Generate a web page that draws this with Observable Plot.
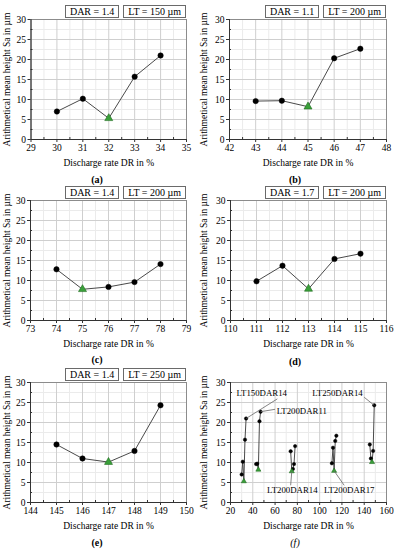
<!DOCTYPE html>
<html>
<head>
<meta charset="utf-8">
<script src="https://cdn.jsdelivr.net/npm/d3@7"></script>
<script src="https://cdn.jsdelivr.net/npm/@observablehq/plot@0.6"></script>
<style>
  html, body { margin: 0; padding: 0; background: #fff; }
  #fig { position: relative; width: 394px; height: 550px; overflow: hidden;
         font-family: "Liberation Serif", "DejaVu Serif", serif; color: #000; }
  #fig svg { position: absolute; }
  .tags { position: absolute; display: flex; gap: 4px; }
  .tag { border: 1px solid #6a6a6a; height: 11px; line-height: 11px; font-size: 10px;
         padding: 0 4px; background: #fff; white-space: nowrap; }
  .cap { position: absolute; font-size: 10px; line-height: 10px; font-weight: bold; transform: translateX(-50%); }
</style>
</head>
<body>
<div id="fig"></div>
<script>
// ---------- data ----------
const drA = [30, 31, 32, 33, 34];
const saA = [7.0, 10.2, 5.3, 15.7, 21.0];
const drB = [43, 44, 45, 46, 47];
const saB = [9.6, 9.7, 8.2, 20.3, 22.7];
const drC = [74, 75, 76, 77, 78];
const saC = [12.8, 7.8, 8.4, 9.6, 14.1];
const drD = [111, 112, 113, 114, 115];
const saD = [9.8, 13.7, 7.9, 15.4, 16.7];
const drE = [145, 146, 147, 148, 149];
const saE = [14.5, 11.0, 10.1, 12.9, 24.3];
const bestDR = [32, 45, 75, 113, 147];           // green triangle (minimum) per series
const seriesNames = ["LT150DAR14", "LT200DAR11", "LT200DAR14", "LT200DAR17", "LT250DAR14"];
const darLabels = ["1.4", "1.1", "1.4", "1.7", "1.4"];
const ltLabels = ["150", "200", "200", "200", "250"];
const captions = ["(a)", "(b)", "(c)", "(d)", "(e)", "(f)"];
const xDomains = [[29, 35], [42, 48], [73, 79], [110, 116], [144, 150], [20, 160]];
const yTicks = [0, 5, 10, 15, 20, 25, 30];
// annotation labels in panel (f): label position and leader-line end (data units)
const annText = ["LT150DAR14", "LT200DAR11", "LT250DAR14", "LT200DAR14", "LT200DAR17"];
const annX = [48, 84, 116, 75.5, 126.5];
const annY = [27.4, 22.9, 27.4, 3.0, 3.0];
const leadX1 = [34, 47, 149, 75, 113];
const leadY1 = [21.0, 22.7, 24.3, 7.8, 7.9];
const leadX2 = [62, 60, 140, 74, 122];
const leadY2 = [25.9, 23.3, 26.3, 4.3, 4.3];

// ---------- layout ----------
const fontFamily = '"Liberation Serif", "DejaVu Serif", serif';
const W = 197;
// [panelLeft, panelTop, frameLeft, frameRight, frameTop, frameBottom] (frame relative to panel)
const layout = [
  [0, 0, 30.5, 186, 19, 139],
  [197, 0, 32, 189, 19, 139],
  [0, 185, 30, 186, 15, 135],
  [197, 185, 33, 189, 15, 135],
  [0, 365, 30, 186, 17, 137],
  [197, 365, 33, 189, 17, 137]
];
const capPos = [[97, 175], [295, 175], [97, 355], [295, 357], [97, 538], [295, 538]];

const allDR = [drA, drB, drC, drD, drE];
const allSA = [saA, saB, saC, saD, saE];

const fig = document.getElementById("fig");

function range(a, b, s) { const r = []; for (let v = a; v <= b + 1e-9; v += s) r.push(+v.toFixed(4)); return r; }

function buildPanel(i) {
  const [pl, pt, fl, fr, ft, fb] = layout[i];
  const H = fb + 30;
  const isF = i === 5;
  const xd = xDomains[i];
  const xStep = isF ? 20 : 1;
  const majorX = range(xd[0], xd[1], xStep);
  const minorX = range(xd[0] + xStep / 2, xd[1], xStep).filter(v => v < xd[1]);
  const minorY = range(2.5, 27.5, 5);

  let data = [];
  const idx = isF ? [0, 1, 2, 3, 4] : [i];
  for (const s of idx) {
    allDR[s].forEach((x, k) => data.push({x, y: allSA[s][k], s: seriesNames[s], best: x === bestDR[s]}));
  }
  const r = isF ? 1.7 : 2.7;

  const marks = [
    Plot.gridX(minorX, {stroke: "#ebebeb", strokeOpacity: 1}),
    Plot.gridY(minorY, {stroke: "#ebebeb", strokeOpacity: 1}),
    Plot.gridX(majorX, {stroke: "#cfcfcf", strokeOpacity: 1}),
    Plot.gridY(yTicks, {stroke: "#cfcfcf", strokeOpacity: 1}),
    Plot.frame({stroke: "#8c8c8c"}),
    Plot.ruleY([0], {stroke: "#333"}),
    Plot.ruleX([xd[0]], {stroke: "#333"}),
    Plot.axisX(minorX, {tickSize: -2, tickFormat: () => "", label: null, stroke: "#333"}),
    Plot.axisY(minorY, {tickSize: -2, tickFormat: () => "", label: null, stroke: "#333"}),
    Plot.axisX(majorX, {tickSize: 3, tickPadding: 2, stroke: "#333", fill: "#000", fontSize: 9.5,
      label: "Discharge rate DR in %", labelAnchor: "center", labelOffset: 26, labelArrow: "none"}),
    Plot.axisY(yTicks, {tickSize: 3, tickPadding: 2, stroke: "#333", fill: "#000", fontSize: 9.5,
      label: "Arithmetical mean height Sa in µm", labelAnchor: "center", labelOffset: fl - 3, labelArrow: "none"}),
    Plot.line(data, {x: "x", y: "y", z: "s", stroke: "#4a4a4a", strokeWidth: 1}),
    Plot.dot(data.filter(d => !d.best), {x: "x", y: "y", r, fill: "#000", stroke: "#000", strokeWidth: 0.5}),
    Plot.dot(data.filter(d => d.best), {x: "x", y: "y", r: r * 1.1, symbol: "triangle", fill: "#3aa03a", stroke: "#1f6b1f", strokeWidth: 0.6})
  ];
  if (isF) {
    const ann = annText.map((t, k) => ({t, x: annX[k], y: annY[k], x1: leadX1[k], y1: leadY1[k], x2: leadX2[k], y2: leadY2[k]}));
    marks.push(Plot.link(ann, {x1: "x1", y1: "y1", x2: "x2", y2: "y2", stroke: "#666", strokeWidth: 0.8}));
    marks.push(Plot.text(ann, {x: "x", y: "y", text: "t", fontSize: 8.8, fill: "#000", ariaLabel: "annot"}));
  }

  const svg = Plot.plot({
    width: W, height: H,
    marginLeft: fl, marginRight: W - fr, marginTop: ft, marginBottom: H - fb,
    style: {fontFamily, fontSize: "9.5px", background: "transparent", overflow: "visible"},
    x: {domain: xd},
    y: {domain: [0, 30]},
    marks
  });
  svg.style.left = pl + "px";
  svg.style.top = pt + "px";
  fig.appendChild(svg);

  if (isF) {
    svg.querySelectorAll('g[aria-label="annot"] text').forEach(t => {
      const b = t.getBBox();
      const rect = document.createElementNS("http://www.w3.org/2000/svg", "rect");
      rect.setAttribute("x", b.x - 2);
      rect.setAttribute("y", b.y - 0.5);
      rect.setAttribute("width", b.width + 4);
      rect.setAttribute("height", b.height + 1);
      rect.setAttribute("fill", "#fff");
      rect.setAttribute("stroke", "#6a6a6a");
      rect.setAttribute("stroke-width", "0.8");
      const tr = t.getAttribute("transform");
      if (tr) rect.setAttribute("transform", tr);
      t.parentNode.insertBefore(rect, t);
    });
  } else {
    const tags = document.createElement("div");
    tags.className = "tags";
    tags.style.right = (394 - (pl + fr)) + "px";
    tags.style.top = (pt + ft - 14) + "px";
    tags.innerHTML = `<div class="tag">DAR = ${darLabels[i]}</div><div class="tag">LT = ${ltLabels[i]} µm</div>`;
    fig.appendChild(tags);
  }

  const cap = document.createElement("div");
  cap.className = "cap";
  cap.textContent = captions[i];
  cap.style.left = capPos[i][0] + "px";
  cap.style.top = capPos[i][1] + "px";
  if (isF) { cap.style.fontStyle = "italic"; cap.style.fontWeight = "normal"; }
  fig.appendChild(cap);
}

for (let i = 0; i < 6; i++) buildPanel(i);
</script>
</body>
</html>
